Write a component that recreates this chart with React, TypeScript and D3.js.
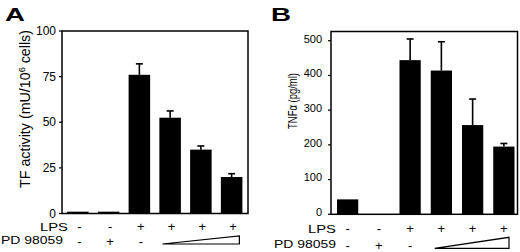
import React from "react";
import * as d3 from "d3";

const categories = ["c1", "c2", "c3", "c4", "c5", "c6"];
const tfActivity = [1, 1, 76, 52.5, 35, 20];
const tfError = [0, 0, 6, 3.7, 2, 1.8];
const tnfAlpha = [43, 0, 444, 414, 257, 195];
const tnfError = [0, 0, 61, 83, 75, 9];
const lpsRow = ["-", "-", "+", "+", "+", "+"];
const pdRow = ["-", "+", "-", "", "", ""];
const tfTicks = [0, 25, 50, 75, 100];
const tnfTicks = [0, 100, 200, 300, 400, 500];

const FONT = "Liberation Sans, Arial, Helvetica, sans-serif";

type PanelProps = {
  letter: string;
  letterX: number;
  values: number[];
  errors: number[];
  ticks: number[];
  yDomain: [number, number];
  yRange: [number, number];
  xRange: [number, number];
  box: { x0: number; x1: number; y0: number; y1: number };
  padInner: number;
  padOuter: number;
  tickLabelX: number;
  tickLabelDy: number;
  tickFont: number;
  yLabel: React.ReactNode;
  yLabelX: number;
  yLabelY: number;
  yLabelLen?: number;
  yLabelSize: number;
  lpsY: number;
  pdY: number;
  rowLabelX: number;
  pdLabelX: number;
  markShift: number;
  triInset: [number, number];
  triTop: number;
};

function Panel(p: PanelProps) {
  const x = d3.scaleBand<string>().domain(categories).range(p.xRange).paddingInner(p.padInner).paddingOuter(p.padOuter);
  const y = d3.scaleLinear().domain(p.yDomain).range(p.yRange);
  const bw = x.bandwidth();
  const cx = (c: string) => (x(c) as number) + bw / 2;
  const triLeft = (x(categories[3]) as number) + p.triInset[0];
  const triRight = (x(categories[5]) as number) + bw - p.triInset[1];
  const triPath = d3.line()([
    [triLeft, p.pdY],
    [triRight, p.triTop],
    [triRight, p.pdY],
  ]) + "Z";
  return (
    <g fontFamily={FONT} fill="#000">
      <text x={p.letterX} y={21} fontSize={19} fontWeight="bold" textLength={20} lengthAdjust="spacingAndGlyphs">
        {p.letter}
      </text>
      {categories.map((c, i) => {
        const v = p.values[i];
        if (v <= 0) return null;
        return (
          <rect key={c} x={x(c)} y={y(v)} width={bw} height={y(0) - y(v)} fill="#000" />
        );
      })}
      {categories.map((c, i) => {
        const e = p.errors[i];
        if (e <= 0) return null;
        const top = y(p.values[i] + e);
        return (
          <g key={"e" + c} stroke="#000" strokeWidth={1.6}>
            <line x1={cx(c)} x2={cx(c)} y1={y(p.values[i])} y2={top} />
            <line x1={cx(c) - 3.5} x2={cx(c) + 3.5} y1={top} y2={top} />
          </g>
        );
      })}
      <rect
        x={p.box.x0}
        y={p.box.y0}
        width={p.box.x1 - p.box.x0}
        height={p.box.y1 - p.box.y0}
        fill="none"
        stroke="#000"
        strokeWidth={1.5}
      />
      {p.ticks.map((t) => (
        <g key={"t" + t}>
          <line x1={p.box.x0 - 3} x2={p.box.x0} y1={y(t)} y2={y(t)} stroke="#000" strokeWidth={1.2} />
          <text x={p.tickLabelX} y={y(t) + p.tickLabelDy} dy="0.35em" textAnchor="end" fontSize={p.tickFont}>
            {t}
          </text>
        </g>
      ))}
      <text
        transform={`translate(${p.yLabelX},${p.yLabelY}) rotate(-90)`}
        textAnchor="middle"
        fontSize={p.yLabelSize}
        textLength={p.yLabelLen}
        lengthAdjust={p.yLabelLen ? "spacingAndGlyphs" : undefined}
      >
        {p.yLabel}
      </text>
      <text x={p.rowLabelX} y={p.lpsY} textAnchor="end" fontSize={11.5} textLength={28} lengthAdjust="spacingAndGlyphs">
        LPS
      </text>
      <text x={p.pdLabelX} y={p.pdY} textAnchor="end" fontSize={11.5} textLength={62} lengthAdjust="spacingAndGlyphs">
        PD 98059
      </text>
      {categories.map((c, i) => (
        <text key={"l" + c} x={cx(c) + p.markShift} y={p.lpsY} textAnchor="middle" fontSize={13}>
          {lpsRow[i]}
        </text>
      ))}
      {categories.map((c, i) =>
        pdRow[i] ? (
          <text key={"p" + c} x={cx(c) + p.markShift} y={p.pdY + 2} textAnchor="middle" fontSize={13}>
            {pdRow[i]}
          </text>
        ) : null
      )}
      <path d={triPath} fill="none" stroke="#000" strokeWidth={1.2} />
    </g>
  );
}

export default function App() {
  return (
    <svg
      width={520}
      height={252}
      viewBox="0 0 520 252"
      style={{ position: "absolute", left: 0, top: 0, background: "#fff" }}
    >
      <rect x={0} y={0} width={520} height={252} fill="#fff" />
      <Panel
        letter="A"
        letterX={5}
        values={tfActivity}
        errors={tfError}
        ticks={tfTicks}
        yDomain={[0, 100]}
        yRange={[213.5, 31]}
        xRange={[62.5, 247]}
        box={{ x0: 62, x1: 248, y0: 31, y1: 213.5 }}
        padInner={0.3}
        padOuter={0.15}
        tickLabelX={56}
        tickLabelDy={0}
        tickFont={12}
        yLabel={
          <>
            TF activity (mU/10
            <tspan fontSize={9} dy={-5}>6</tspan>
            <tspan dy={5}> cells)</tspan>
          </>
        }
        yLabelX={29.5}
        yLabelY={109}
        yLabelSize={14}
        yLabelLen={158}
        lpsY={230.7}
        pdY={244}
        rowLabelX={68}
        pdLabelX={63}
        markShift={1.5}
        triInset={[3, 3]}
        triTop={236}
      />
      <Panel
        letter="B"
        letterX={271}
        values={tnfAlpha}
        errors={tnfError}
        ticks={tnfTicks}
        yDomain={[0, 500]}
        yRange={[214.3, 40.7]}
        xRange={[332, 519.5]}
        box={{ x0: 331, x1: 517.5, y0: 31.5, y1: 214.3 }}
        padInner={0.32}
        padOuter={0.16}
        tickLabelX={322}
        tickLabelDy={-2}
        tickFont={11}
        yLabel={<>TNFα (pg/ml)</>}
        yLabelX={296.5}
        yLabelY={101}
        yLabelSize={13.5}
        yLabelLen={56}
        lpsY={233.3}
        pdY={248.3}
        rowLabelX={336}
        pdLabelX={336}
        markShift={0}
        triInset={[4, 5.5]}
        triTop={237.3}
      />
    </svg>
  );
}
